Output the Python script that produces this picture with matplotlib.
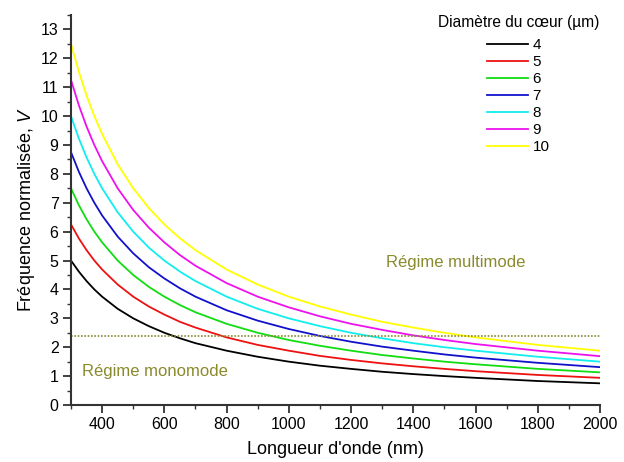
import matplotlib
matplotlib.use("Agg")
import matplotlib.pyplot as plt
from matplotlib.ticker import MultipleLocator

plt.rcParams['font.family'] = ['Liberation Sans', 'DejaVu Sans']
plt.rcParams['mathtext.fontset'] = 'custom'
plt.rcParams['mathtext.it'] = 'Liberation Sans:italic'
plt.rcParams['mathtext.rm'] = 'Liberation Sans'

wavelength = [300, 325, 350, 375, 400, 450, 500, 550, 600, 650, 700, 800, 900,
              1000, 1100, 1200, 1300, 1400, 1500, 1600, 1800, 2000]
diameters = ["4", "5", "6", "7", "8", "9", "10"]
v_d4 = [5.00, 4.62, 4.29, 4.00, 3.75, 3.33, 3.00, 2.73, 2.50, 2.31, 2.14, 1.88, 1.67, 1.50, 1.36, 1.25, 1.15, 1.07, 1.00, 0.94, 0.83, 0.75]
v_d5 = [6.25, 5.77, 5.36, 5.00, 4.69, 4.17, 3.75, 3.41, 3.13, 2.88, 2.68, 2.34, 2.08, 1.88, 1.70, 1.56, 1.44, 1.34, 1.25, 1.17, 1.04, 0.94]
v_d6 = [7.50, 6.92, 6.43, 6.00, 5.63, 5.00, 4.50, 4.09, 3.75, 3.46, 3.21, 2.81, 2.50, 2.25, 2.05, 1.88, 1.73, 1.61, 1.50, 1.41, 1.25, 1.13]
v_d7 = [8.75, 8.08, 7.50, 7.00, 6.56, 5.83, 5.25, 4.77, 4.38, 4.04, 3.75, 3.28, 2.92, 2.63, 2.39, 2.19, 2.02, 1.88, 1.75, 1.64, 1.46, 1.31]
v_d8 = [10.00, 9.23, 8.57, 8.00, 7.50, 6.67, 6.00, 5.45, 5.00, 4.62, 4.29, 3.75, 3.33, 3.00, 2.73, 2.50, 2.31, 2.14, 2.00, 1.88, 1.67, 1.50]
v_d9 = [11.25, 10.38, 9.64, 9.00, 8.44, 7.50, 6.75, 6.14, 5.63, 5.19, 4.82, 4.22, 3.75, 3.38, 3.07, 2.81, 2.60, 2.41, 2.25, 2.11, 1.88, 1.69]
v_d10 = [12.50, 11.54, 10.71, 10.00, 9.38, 8.33, 7.50, 6.82, 6.25, 5.77, 5.36, 4.69, 4.17, 3.75, 3.41, 3.13, 2.88, 2.68, 2.50, 2.34, 2.08, 1.88]
series = [v_d4, v_d5, v_d6, v_d7, v_d8, v_d9, v_d10]
colors = ['#000000', '#ee1111', '#11dd11', '#1111cc', '#11eeee', '#ee11ee', '#ffff00']

cutoff = 2.405
olive = '#8a8a2e'

fig = plt.figure(figsize=(6.24, 4.62), dpi=100)
ax = fig.add_axes([0.1138, 0.1234, 0.8477, 0.8441])

for lab, vals, c in zip(diameters, series, colors):
    ax.plot(wavelength, vals, color=c, lw=1.3, label=lab)

ax.plot([wavelength[0], wavelength[-1]], [cutoff, cutoff], color=olive, ls=(0, (1, 1)), lw=1.2)

ax.text(1537, 4.93, "Régime multimode", color=olive, fontsize=12, ha='center', va='center')
ax.text(335, 1.17, "Régime monomode", color=olive, fontsize=12, ha='left', va='center')

ax.set_xlim(300, 2000)
ax.set_ylim(0, 13.5)
ax.set_xticks(range(400, 2001, 200))
ax.xaxis.set_minor_locator(MultipleLocator(100))
ax.set_yticks(range(0, 14))
ax.yaxis.set_minor_locator(MultipleLocator(0.5))

for s in ['top', 'right']:
    ax.spines[s].set_visible(False)
for s in ['left', 'bottom']:
    ax.spines[s].set_color('#333333')
    ax.spines[s].set_linewidth(1.5)
ax.tick_params(which='major', direction='out', length=6, width=1.3, color='#333333', labelsize=11.5, pad=3)
ax.tick_params(which='minor', direction='out', length=3, width=1.0, color='#333333')

ax.set_xlabel("Longueur d'onde (nm)", fontsize=13, labelpad=6)
ax.set_ylabel("Fréquence normalisée, $V$", fontsize=13, labelpad=3)

fig.text(0.832, 0.952, "Diamètre du cœur (µm)", fontsize=11.2, ha='center', va='center')
leg = ax.legend(loc='upper left', bbox_to_anchor=(0.780, 0.918), bbox_transform=fig.transFigure,
                frameon=False, fontsize=11, labelspacing=0.2,
                handlelength=2.7, handletextpad=0.3, borderpad=0.0, borderaxespad=0.0)

fig.savefig("out.png", dpi=100)
